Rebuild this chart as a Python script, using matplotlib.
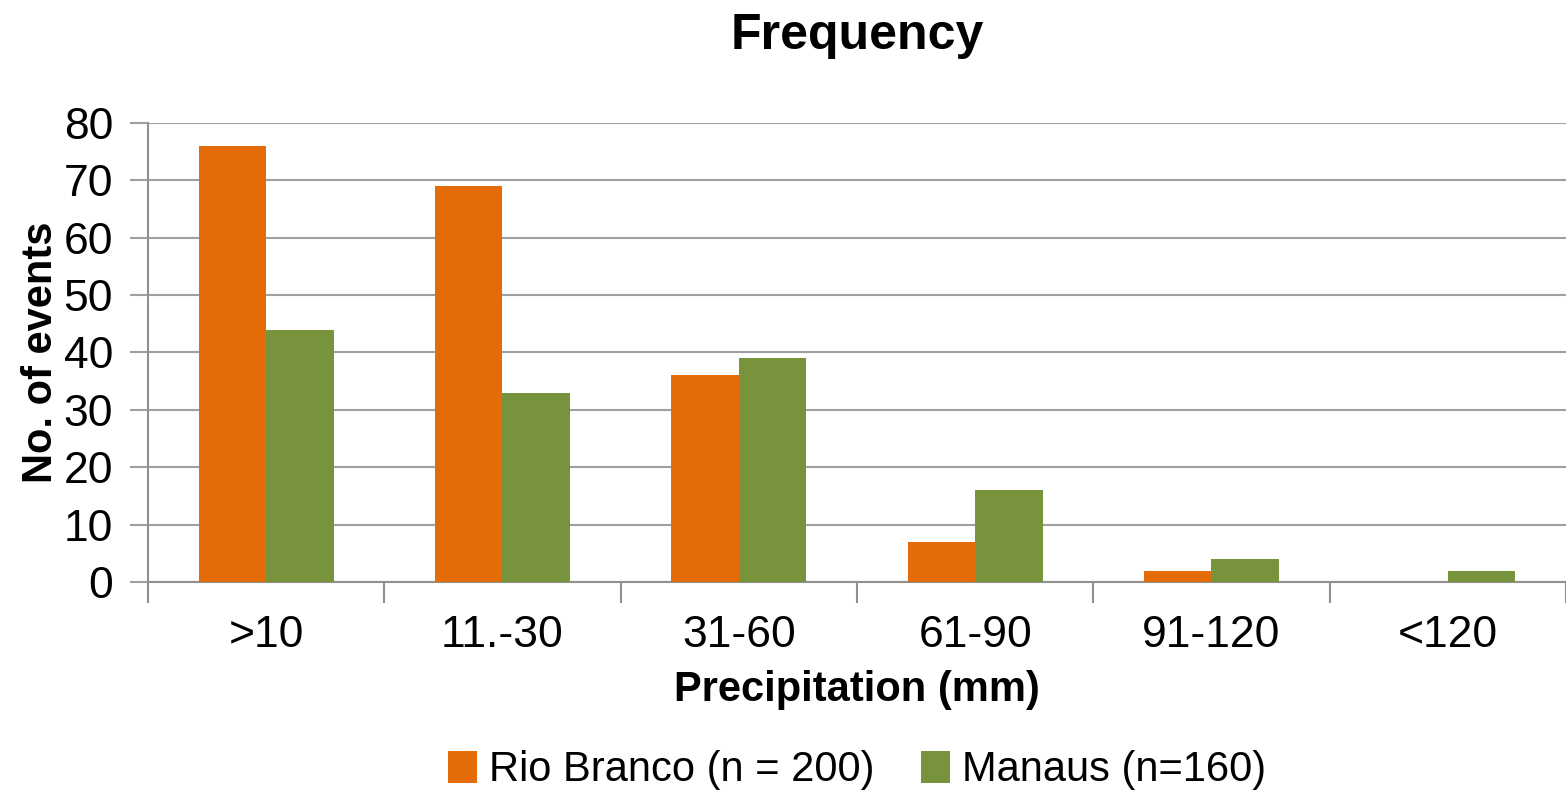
import matplotlib.pyplot as plt
import numpy as np

plt.rcParams['font.family'] = ['Liberation Sans', 'DejaVu Sans']

# données
categories = ['>10', '11.-30', '31-60', '61-90', '91-120', '<120']
rio_branco = [76, 69, 36, 7, 2, 0]
manaus = [44, 33, 39, 16, 4, 2]
series_names = ['Rio Branco (n = 200)', 'Manaus (n=160)']

orange = '#E36C09'
green = '#77933C'

fig = plt.figure(figsize=(15.66, 7.93), dpi=100)
ax = fig.add_axes([0.0945, 0.266, 0.9055, 0.579])

x = np.arange(len(categories))
w = 0.285
ax.bar(x - w / 2, rio_branco, w, color=orange, label=series_names[0], zorder=3)
ax.bar(x + w / 2, manaus, w, color=green, label=series_names[1], zorder=3)

ax.set_xlim(-0.5, len(categories) - 0.5)
ax.set_ylim(0, 80)
ax.set_yticks(range(0, 81, 10))
ax.yaxis.grid(True, color='#A0A0A0', linewidth=1.5, zorder=0)

# ticks de catégorie entre les groupes
ax.set_xticks(x)
ax.set_xticklabels(categories)
ax.set_xticks(np.arange(-0.5, len(categories), 1), minor=True)
ax.tick_params(axis='x', which='major', length=0, pad=24, labelsize=32)
ax.tick_params(axis='x', which='minor', length=15, color='#909090', width=1.5)
ax.tick_params(axis='y', length=13, color='#A0A0A0', width=1.5, labelsize=32, pad=12)

for s in ['top', 'right']:
    ax.spines[s].set_visible(False)
ax.spines['left'].set_color('#909090')
ax.spines['bottom'].set_color('#909090')
ax.spines['left'].set_linewidth(1.5)
ax.spines['bottom'].set_linewidth(1.5)

ax.set_xlabel('Precipitation (mm)', fontsize=30, fontweight='bold', labelpad=10)
ax.set_ylabel('No. of events', fontsize=30, fontweight='bold', labelpad=2)
ax.set_title('Frequency', fontsize=36, fontweight='bold', pad=53)

ax.legend(loc='upper center', bbox_to_anchor=(0.5, -0.285), ncol=2, frameon=False,
          fontsize=30, handlelength=0.7, handleheight=0.8, handletextpad=0.3,
          columnspacing=1.1)

plt.savefig('out.png', dpi=100)
